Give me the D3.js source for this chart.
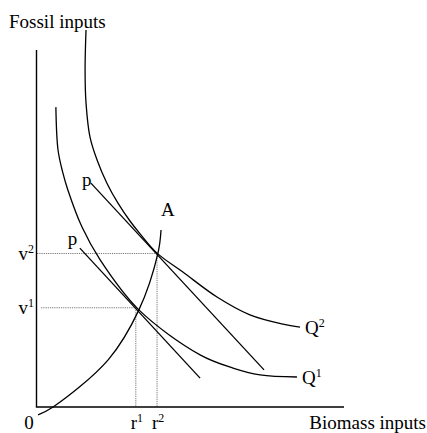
<!DOCTYPE html>
<html>
<head>
<meta charset="utf-8">
<script src="https://cdn.jsdelivr.net/npm/d3@7"></script>
<style>
  html, body { margin: 0; padding: 0; background: #fff; }
  svg { display: block; }
  text { font-family: "Liberation Serif", "Times New Roman", serif; fill: #000; }
</style>
</head>
<body>
<svg id="chart" width="427" height="433"></svg>
<script>
// ---- data (chart units) ----
const axisTitles = ["Fossil inputs", "Biomass inputs"];
const isoquantQ1 = [[6.3,84.0],[7.0,72.0],[8.6,65.5],[10.2,60.8],[14.8,50.4],[20.7,41.2],[33.3,27.2],[53.2,14.6],[63.9,10.9],[72.7,9.0],[84.7,8.4]];
const isoquantQ2 = [[16.1,105.6],[15.8,94.4],[16.1,85.2],[17.4,75.6],[19.7,69.2],[22.9,62.7],[26.5,57.1],[30.4,52.1],[33.7,48.5],[39.2,43.1],[47.6,37.8],[58.7,30.8],[69.4,25.8],[80.2,23.2],[85.7,22.4]];
const isoquantLabels = ["1", "2"];
const expansionPath = [[0.5,-2.2],[5.4,0],[23.3,13.2],[33.3,27.2],[39.5,43.1],[40.5,49.6]];
const expansionLabel = "A";
const priceLineUpper = [[17.7,62.7],[74.0,10.4]];
const priceLineLower = [[14.1,44.5],[53.2,8.1]];
const priceLabel = "p";
const equilibriumX = [32.3, 39.2];
const equilibriumY = [27.8, 43.0];
const tickIndex = ["1", "2"];
const originLabel = "0";

// ---- scales ----
const svg = d3.select("#chart");
const x = d3.scaleLinear().domain([0, 100]).range([36.5, 344]);
const y = d3.scaleLinear().domain([0, 100]).range([407, 50]);
const line = d3.line().x(d => x(d[0])).y(d => y(d[1]));
const smooth = d3.line().x(d => x(d[0])).y(d => y(d[1])).curve(d3.curveCatmullRom.alpha(0.5));

const black = "#000";
const sw = 1.3;
const supSize = 12, baseSize = 19;

// dotted guide lines
equilibriumX.forEach((ex, i) => {
  const ey = equilibriumY[i];
  const startX = i === 0 ? 1.5 : 0.2;
  [[[startX, ey], [ex, ey]], [[ex, ey], [ex, 0]]].forEach(seg => {
    svg.append("path").attr("d", line(seg)).attr("fill", "none")
      .attr("stroke", "#777").attr("stroke-width", 1).attr("stroke-dasharray", "1.2,1");
  });
});

// axes
svg.append("path").attr("d", line([[0, 100], [0, 0], [100, 0]])).attr("fill", "none").attr("stroke", black).attr("stroke-width", 1.4);

// curves
[isoquantQ1, isoquantQ2, expansionPath].forEach(pts => {
  svg.append("path").attr("d", smooth(pts)).attr("fill", "none").attr("stroke", black).attr("stroke-width", sw);
});
[priceLineUpper, priceLineLower].forEach(pts => {
  svg.append("path").attr("d", line(pts)).attr("fill", "none").attr("stroke", black).attr("stroke-width", sw);
});

// text helpers
function supText(px, py, base, sup, anchor) {
  const t = svg.append("text").attr("x", px).attr("y", py).attr("font-size", baseSize).attr("text-anchor", anchor || "start");
  t.append("tspan").text(base);
  if (sup) t.append("tspan").attr("font-size", supSize).attr("dy", -7).text(sup);
  return t;
}

// axis titles
svg.append("text").attr("x", 9).attr("y", 28).attr("font-size", baseSize).text(axisTitles[0]);
svg.append("text").attr("x", 426).attr("y", 429).attr("font-size", baseSize).attr("text-anchor", "end").text(axisTitles[1]);

// origin
svg.append("text").attr("x", 29).attr("y", 429).attr("font-size", baseSize).attr("text-anchor", "middle").text(originLabel);

// tick labels
equilibriumX.forEach((ex, i) => {
  supText(x(ex) + 1, 429, "r", tickIndex[i], "middle");
  supText(34, y(equilibriumY[i]) + 6.5, "v", tickIndex[i], "end");
});

// isoquant labels
[isoquantQ1, isoquantQ2].forEach((pts, i) => {
  const end = pts[pts.length - 1];
  supText(x(end[0]) + 5, y(end[1]) + 6.5, "Q", isoquantLabels[i], "start");
});

// expansion path label
const pathTop = expansionPath[expansionPath.length - 1];
svg.append("text").attr("x", x(pathTop[0])).attr("y", y(pathTop[1]) - 14).attr("font-size", baseSize).text(expansionLabel);

// price line labels
const pOffsets = [[-9, 3], [-12, -3]];
[priceLineUpper, priceLineLower].forEach((pts, i) => {
  svg.append("text").attr("x", x(pts[0][0]) + pOffsets[i][0]).attr("y", y(pts[0][1]) + pOffsets[i][1]).attr("font-size", baseSize).text(priceLabel);
});
</script>
</body>
</html>
